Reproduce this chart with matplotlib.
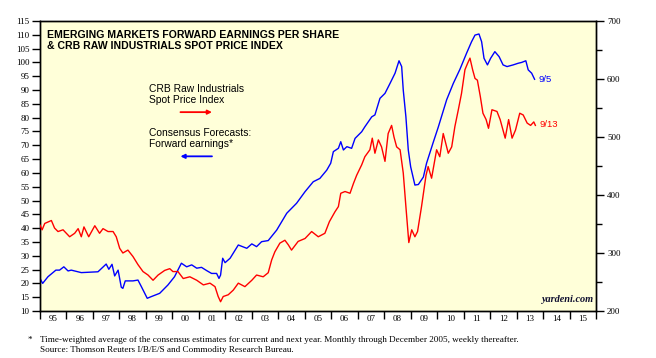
import matplotlib
matplotlib.use("Agg")
import matplotlib.pyplot as plt
from matplotlib.ticker import FixedLocator, NullFormatter

# Forward earnings (left axis) - year fraction and value
eps_t = [1995.0, 1995.1, 1995.3, 1995.6, 1995.74, 1995.9, 1996.06, 1996.18, 1996.56, 1997.19,
         1997.5, 1997.6, 1997.72, 1997.82, 1997.95, 1998.07, 1998.13, 1998.22, 1998.51, 1998.7,
         1998.83, 1999.05, 1999.2, 1999.52, 1999.83, 2000.08, 2000.34, 2000.54, 2000.73, 2000.92,
         2001.1, 2001.3, 2001.48, 2001.67, 2001.76, 2001.82, 2001.9, 2001.99, 2002.18, 2002.49,
         2002.81, 2003.0, 2003.18, 2003.37, 2003.62, 2003.94, 2004.32, 2004.69, 2005.01, 2005.32,
         2005.57, 2005.83, 2005.98, 2006.08, 2006.27, 2006.36, 2006.46, 2006.59, 2006.77, 2006.9,
         2007.15, 2007.27, 2007.53, 2007.65, 2007.84, 2008.03, 2008.22, 2008.41, 2008.56, 2008.66,
         2008.72, 2008.82, 2008.91, 2009.0, 2009.16, 2009.29, 2009.48, 2009.6, 2009.85, 2010.04,
         2010.36, 2010.61, 2010.86, 2011.11, 2011.3, 2011.43, 2011.58, 2011.68, 2011.77, 2011.9,
         2012.02, 2012.18, 2012.34, 2012.49, 2012.64, 2012.87, 2013.06, 2013.19, 2013.35, 2013.44,
         2013.57, 2013.68]
eps_v = [21.8, 20.0, 22.4, 24.8, 24.8, 26.0, 24.5, 24.8, 23.9, 24.2,
         27.0, 25.1, 26.9, 22.7, 24.8, 18.6, 18.2, 20.9, 20.9, 21.2,
         18.8, 14.6, 15.2, 16.4, 19.4, 22.4, 27.3, 26.0, 26.7, 25.5,
         25.8, 24.6, 23.6, 23.6, 21.8, 23.0, 29.1, 27.5, 29.1, 33.9,
         32.7, 34.3, 33.3, 35.1, 35.5, 39.3, 45.4, 49.0, 53.2, 56.8,
         58.0, 61.0, 63.5, 67.7, 68.9, 71.3, 68.3, 69.5, 68.9, 72.5,
         74.9, 76.7, 80.3, 81.0, 87.0, 88.8, 92.4, 96.1, 100.6, 98.5,
         90.0, 80.3, 68.3, 62.2, 55.6, 55.8, 58.5, 63.5, 71.0, 76.5,
         86.5, 92.4, 97.5, 103.3, 107.5, 109.9, 110.3, 107.5, 101.5, 99.1,
         101.5, 103.9, 102.1, 99.1, 98.5, 99.1, 99.7, 100.0, 100.6, 97.3,
         96.1, 93.9]

# CRB raw industrials spot index (right axis)
crb_t = [1995.0, 1995.08, 1995.18, 1995.43, 1995.55, 1995.68, 1995.87, 1996.12, 1996.31, 1996.44,
         1996.56, 1996.66, 1996.84, 1997.07, 1997.25, 1997.38, 1997.57, 1997.76, 1997.88, 1998.01,
         1998.13, 1998.32, 1998.51, 1998.7, 1998.89, 1999.08, 1999.27, 1999.46, 1999.71, 1999.9,
         2000.02, 2000.21, 2000.41, 2000.66, 2000.92, 2001.17, 2001.42, 2001.61, 2001.73, 2001.82,
         2001.92, 2002.11, 2002.3, 2002.49, 2002.74, 2003.0, 2003.18, 2003.43, 2003.62, 2003.75,
         2003.87, 2004.06, 2004.25, 2004.38, 2004.5, 2004.75, 2005.01, 2005.26, 2005.51, 2005.76,
         2005.93, 2006.14, 2006.27, 2006.36, 2006.52, 2006.71, 2006.84, 2006.96, 2007.15, 2007.27,
         2007.46, 2007.55, 2007.65, 2007.78, 2007.9, 2008.03, 2008.15, 2008.28, 2008.37, 2008.47,
         2008.6, 2008.72, 2008.82, 2008.93, 2009.04, 2009.16, 2009.26, 2009.41, 2009.58, 2009.66,
         2009.79, 2009.98, 2010.1, 2010.23, 2010.42, 2010.55, 2010.67, 2010.8, 2010.92, 2011.05,
         2011.15, 2011.24, 2011.34, 2011.43, 2011.52, 2011.63, 2011.73, 2011.85, 2011.94, 2012.07,
         2012.26, 2012.38, 2012.57, 2012.7, 2012.83, 2012.96, 2013.12, 2013.25, 2013.4, 2013.53,
         2013.65, 2013.71]
crb_v = [348, 340, 351, 356, 343, 337, 340, 328, 334, 342,
         328, 345, 328, 347, 334, 342, 337, 337, 328, 308,
         300, 305, 294, 280, 268, 262, 253, 262, 270, 273,
         268, 268, 256, 259, 253, 245, 248, 242, 225, 216,
         225, 228, 236, 248, 242, 253, 262, 259, 266, 288,
         302, 317, 322, 314, 305, 320, 325, 337, 328, 334,
         354, 371, 380, 403, 406, 403, 420, 434, 452, 466,
         478, 498, 472, 495, 483, 458, 506, 520, 500, 483,
         478, 438, 380, 318, 340, 328, 337, 380, 434, 449,
         429, 478, 466, 506, 472, 483, 518, 547, 575, 616,
         627, 636, 616, 601, 598, 570, 541, 530, 515, 547,
         544, 530, 498, 530, 498, 512, 541, 538, 524, 520,
         526, 520]

years = list(range(1995, 2017))
year_labels = [f"{y % 100:02d}" for y in range(1995, 2016)]

BLUE = "#0000ff"
RED = "#ff0000"
BG = "#ffffd9"

serif = "Liberation Serif"
sans = "Liberation Sans"

fig = plt.figure(figsize=(6.56, 3.58), dpi=100)
ax = fig.add_axes([40 / 656, 1 - 311 / 358, 556 / 656, 290 / 358])
ax.set_facecolor(BG)
ax2 = ax.twinx()

ax.plot(eps_t, eps_v, color=BLUE, lw=1.0, zorder=3)
ax2.plot(crb_t, crb_v, color=RED, lw=1.0, zorder=3)

ax.set_xlim(1995, 2016)
ax.set_ylim(10, 115)
ax2.set_ylim(200, 700)

# x axis: ticks at year boundaries, labels centred in each year
ax.xaxis.set_major_locator(FixedLocator(years))
ax.xaxis.set_major_formatter(NullFormatter())
ax.xaxis.set_minor_locator(FixedLocator([y + 0.5 for y in range(1995, 2016)]))
ax.set_xticklabels(year_labels, minor=True)
ax.tick_params(axis="x", which="major", direction="out", length=6, width=1)
ax.tick_params(axis="x", which="minor", length=0, pad=3)

ax.set_yticks(range(10, 116, 5))
ax.tick_params(axis="y", direction="out", length=6, width=1, pad=1.5)
ax2.set_yticks(range(200, 701, 100))
ax2.set_yticks(range(250, 700, 100), minor=True)
ax2.tick_params(axis="y", which="major", direction="out", length=6, width=1, pad=2)
ax2.tick_params(axis="y", which="minor", direction="out", length=4, width=1)

for lab in ax.get_xticklabels(minor=True) + ax.get_yticklabels() + ax2.get_yticklabels():
    lab.set_fontfamily(serif)
    lab.set_fontsize(6.5)

for a in (ax, ax2):
    for s in a.spines.values():
        s.set_linewidth(1.0)

# title
ax.text(0.013, 0.968, "EMERGING MARKETS FORWARD EARNINGS PER SHARE\n& CRB RAW INDUSTRIALS SPOT PRICE INDEX",
        transform=ax.transAxes, ha="left", va="top", fontsize=7.6, fontweight="bold",
        family=sans, linespacing=1.05, zorder=5)

# labels with arrows
ax.text(1999.13, 88.4, "CRB Raw Industrials\nSpot Price Index", ha="left", va="center",
        fontsize=7.4, family=sans, linespacing=1.15, zorder=5)
ax.annotate("", xy=(2001.6, 82.0), xytext=(2000.2, 82.0),
            arrowprops=dict(arrowstyle="-|>", color=RED, lw=1.3, mutation_scale=6), zorder=5)
ax.text(1999.13, 72.4, "Consensus Forecasts:\nForward earnings*", ha="left", va="center",
        fontsize=7.4, family=sans, linespacing=1.15, zorder=5)
ax.annotate("", xy=(2000.2, 66.0), xytext=(2001.6, 66.0),
            arrowprops=dict(arrowstyle="-|>", color=BLUE, lw=1.3, mutation_scale=6), zorder=5)

ax.text(2013.83, 94.0, "9/5", color=BLUE, ha="left", va="center", fontsize=6.8, family=sans)
ax2.text(2013.85, 522, "9/13", color=RED, ha="left", va="center", fontsize=6.8, family=sans)

ax.text(0.995, 0.025, "yardeni.com", transform=ax.transAxes, ha="right", va="bottom",
        fontsize=7.4, family=serif, fontstyle="italic", fontweight="bold", color="#101030")

# footnote
fig.text(28 / 656, 1 - 340 / 358, "*", ha="left", va="center", fontsize=6.6, family=serif)
fig.text(40 / 656, 1 - 340 / 358,
         "Time-weighted average of the consensus estimates for current and next year. "
         "Monthly through December 2005, weekly thereafter.",
         ha="left", va="center", fontsize=6.6, family=serif)
fig.text(40 / 656, 1 - 350 / 358, "Source: Thomson Reuters I/B/E/S and Commodity Research Bureau.",
         ha="left", va="center", fontsize=6.6, family=serif)

fig.savefig("out.png", dpi=100)
